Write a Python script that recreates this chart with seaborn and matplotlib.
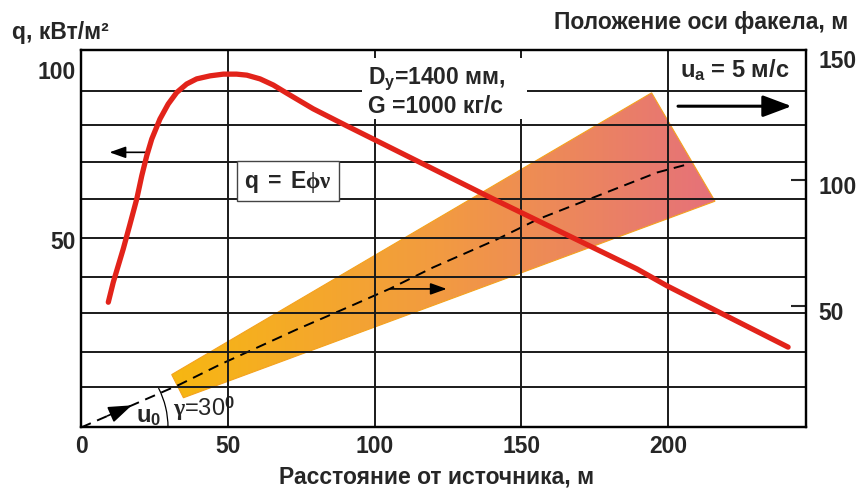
import numpy as np
import seaborn as sns
import matplotlib
matplotlib.use("Agg")
import matplotlib.pyplot as plt
import matplotlib.transforms as mtransforms
from matplotlib.patches import Polygon, Rectangle, Arc
from matplotlib.colors import LinearSegmentedColormap

# ---------------- data ----------------
# heat flux curve q (left axis, kW/m2) vs distance from source (m)
q_x = [9.3, 11.0, 14.4, 16.7, 19.0, 20.7, 22.4, 24.1, 26.9, 29.7, 32.6, 36.0,
       39.4, 44.0, 48.5, 53.0, 56.5, 61.0, 65.5, 70.1, 79.1, 90.5, 101.9,
       140.4, 189.4, 199.7, 240.9]
q_val = [31.4, 37.3, 47.1, 54.4, 61.8, 68.6, 74.5, 79.4, 85.3, 89.7, 93.1, 95.6,
         97.1, 98.0, 98.5, 98.5, 98.2, 97.1, 95.3, 92.9, 88.3, 83.3, 78.4,
         61.8, 41.2, 36.2, 18.2]

# torch axis position (right axis, m)
axis_x = [0, 33.7, 47.4, 73.5, 91.7, 105.3, 119.9, 141.6, 155.4, 196.3, 207.5]
axis_r = [1.6, 18.7, 26.6, 40.5, 49.7, 56.7, 65.1, 76.2, 84.1, 102.8, 106.3]

# torch envelope (right axis, m)
plume_x = [30.9, 194.4, 216.0, 34.9]
plume_r = [22.6, 134.4, 91.4, 13.4]

# end-of-axis marker
end_x = [207.5, 207.5]
end_r = [101.3, 113.2]

x_ticks = [0, 50, 100, 150, 200]
q_ticks = [50, 100]
r_ticks = [50, 100, 150]
x_grid = [50, 100, 150, 200]
q_grid = [6.5, 16.8, 28.2, 38.8, 50.3, 61.8, 72.6, 83.5, 93.5]

x_label = "Расстояние от источника, м"
q_label = "q, кВт/м²"
r_label = "Положение оси факела, м"
params_text = "D$_\\mathbf{y}$=1400 мм,\nG =1000 кг/с"
wind_text = "u$_\\mathsf{a}$ = 5 м/с"
formula_text = "$\\mathbf{q\\ =\\ E}\\mathrm{\\phi\\nu}$"
u0_text = "$\\mathbf{u}_\\mathsf{0}$"
gamma_text = "$\\mathrm{\\gamma}$=30$^\\mathsf{0}$"

# ---------------- style ----------------
sns.set_style("white")
plt.rcParams["font.family"] = ["Liberation Sans", "DejaVu Sans"]
plt.rcParams["font.weight"] = "bold"
plt.rcParams["mathtext.fontset"] = "custom"
plt.rcParams["mathtext.rm"] = "Liberation Serif"
plt.rcParams["mathtext.it"] = "Liberation Serif:italic"
plt.rcParams["mathtext.bf"] = "Liberation Sans:bold"
plt.rcParams["mathtext.sf"] = "Liberation Sans"

FS = 16.5
W, H = 858, 489
fig = plt.figure(figsize=(W / 100, H / 100), dpi=100)
L, R, T, B = 81, 806, 51, 428
ax = fig.add_axes([L / W, 1 - B / H, (R - L) / W, (B - T) / H])
ax2 = ax.twinx()
ax.set_zorder(ax2.get_zorder() + 1)
ax.patch.set_visible(False)

RED = "#E2231A"
GRID = "#1a1a1a"

# ---- right axes: torch envelope and axis ----
cmap = LinearSegmentedColormap.from_list("plume", ["#F7B712", "#F29A42", "#E6717A"])
pts = np.column_stack([plume_x, plume_r])
poly = Polygon(pts, closed=True, facecolor="none", edgecolor="#F4A21E", lw=0.8, zorder=2)
ax2.add_patch(poly)
grad = np.linspace(0, 1, 256).reshape(1, -1)
im = ax2.imshow(grad, extent=[min(plume_x), max(plume_x), min(plume_r), max(plume_r)],
                aspect="auto", cmap=cmap, origin="lower", zorder=1, interpolation="bilinear")
im.set_clip_path(poly)

sns.lineplot(x=axis_x, y=axis_r, ax=ax2, color="black", lw=1.4,
             linestyle=(0, (5.5, 3.5)), errorbar=None, zorder=3)
sns.lineplot(x=end_x, y=end_r, ax=ax2, color="black", lw=0.9, errorbar=None,
             sort=False, zorder=3)

# arc for gamma
arc_tr = fig.dpi_scale_trans + mtransforms.ScaledTranslation(axis_x[0], axis_r[0], ax2.transData)
arc = Arc((0, 0), 1.74, 1.74, theta1=0, theta2=27, transform=arc_tr, color="black", lw=0.9)
ax2.add_artist(arc)

# u0 arrow on the axis
ax2.annotate("", xy=(17.3, 10.4), xytext=(9.0, 6.2),
             arrowprops=dict(arrowstyle="-|>,head_length=0.9,head_width=0.32",
                             color="black", lw=1.2, shrinkA=0, shrinkB=0,
                             mutation_scale=16))
ax2.text(18.9, 6.5, u0_text, fontsize=17, ha="left", va="center")
ax2.text(31.3, 9.5, gamma_text, fontsize=17, ha="left", va="center",
         fontweight="normal")

# arrow toward right axis
ax2.annotate("", xy=(124.6, 56.6), xytext=(105.3, 56.6),
             arrowprops=dict(arrowstyle="-|>,head_length=0.7,head_width=0.25",
                             color="black", lw=1.2, shrinkA=0, shrinkB=0,
                             mutation_scale=14))
# wind arrow
ax2.annotate("", xy=(242.1, 129.1), xytext=(203.4, 129.1),
             arrowprops=dict(arrowstyle="-|>,head_length=0.8,head_width=0.3",
                             color="black", lw=2.2, shrinkA=0, shrinkB=0,
                             mutation_scale=22))
ax2.text(204.1, 143.7, wind_text, fontsize=17, ha="left", va="center")

# ---- left axes: grid, curve, annotations ----
for xv in x_grid:
    ax.axvline(xv, color=GRID, lw=1.4, zorder=1)
for qv in q_grid:
    ax.axhline(qv, color=GRID, lw=1.4, zorder=1)

ax.add_patch(Rectangle((95.7, 85.3), 56.3, 17.9, facecolor="white",
                       edgecolor="none", zorder=3))
ax.text(97.8, 93.7, params_text, fontsize=FS, ha="left", va="center",
        linespacing=1.2, zorder=4)

sns.lineplot(x=q_x, y=q_val, ax=ax, color=RED, lw=3.8, errorbar=None,
             sort=False, zorder=5)

ax.annotate("", xy=(9.7, 75.5), xytext=(22.0, 75.5),
            arrowprops=dict(arrowstyle="-|>,head_length=0.7,head_width=0.25",
                            color="black", lw=1.2, shrinkA=0, shrinkB=0,
                            mutation_scale=14), zorder=4)

ax.text(70.5, 67.1, formula_text, fontsize=FS, ha="center", va="center", zorder=4,
        bbox=dict(boxstyle="square,pad=0.3", facecolor="white",
                  edgecolor="#444444", lw=1.0))

# ---- limits, ticks, spines ----
ax.set_xlim(0, 247)
ax.set_ylim(-5.3, 105.6)
ax2.set_ylim(1.8, 151.4)

ax.set_xticks(x_ticks)
ax.set_yticks(q_ticks)
ax2.set_yticks(r_ticks)
ax.set_xticklabels([str(v) for v in x_ticks])
ax.set_yticklabels([str(v) for v in q_ticks])
ax2.set_yticklabels([str(v) for v in r_ticks])
ax.tick_params(axis="x", length=0, pad=5, labelsize=FS)
ax.tick_params(axis="y", length=0, pad=4, labelsize=FS)
ax2.tick_params(axis="y", direction="in", length=11, width=1.5, pad=9,
                labelsize=FS, right=True)
ax2.yaxis.get_major_ticks()[-1].tick2line.set_visible(False)
offset = mtransforms.ScaledTranslation(0, -4 / 100, fig.dpi_scale_trans)
for lab in ax2.get_yticklabels():
    lab.set_transform(lab.get_transform() + offset)

for a in (ax, ax2):
    for s in a.spines.values():
        s.set_visible(True)
        s.set_color("black")
        s.set_linewidth(1.6)
ax.set_xlabel("")
ax.set_ylabel("")
ax2.set_ylabel("")

fig.text(12 / W, 1 - 33 / H, q_label, fontsize=FS, ha="left", va="center")
fig.text(848 / W, 1 - 22 / H, r_label, fontsize=FS, ha="right", va="center")
fig.text(437 / W, 1 - 477 / H, x_label, fontsize=FS, ha="center", va="center")

fig.savefig("out.png", dpi=100)
